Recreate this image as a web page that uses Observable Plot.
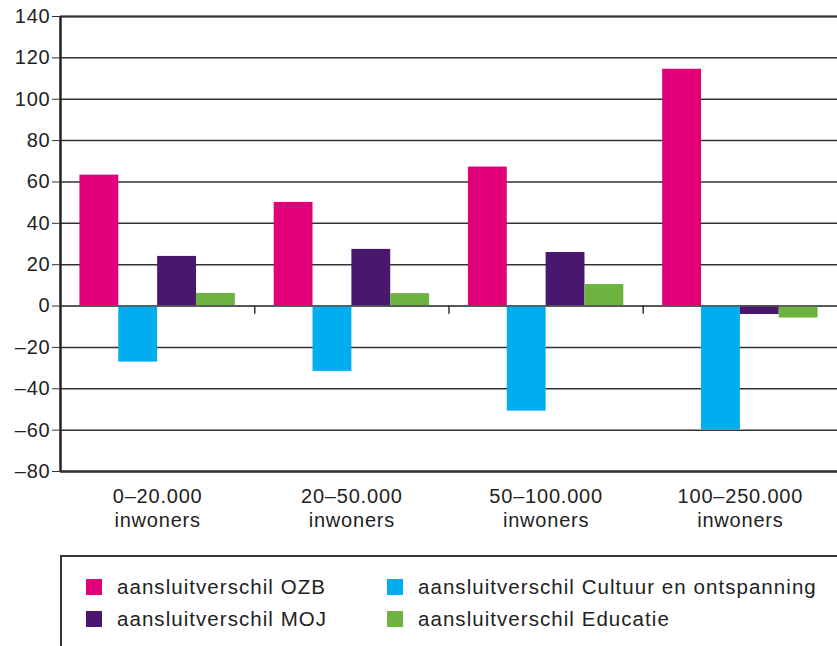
<!DOCTYPE html>
<html>
<head>
<meta charset="utf-8">
<script src="https://cdn.jsdelivr.net/npm/d3@7"></script>
<script src="https://cdn.jsdelivr.net/npm/@observablehq/plot@0.6"></script>
<style>
  html, body { margin: 0; padding: 0; background: #fff; overflow: hidden; width: 837px; height: 646px; }
  body { font-family: "Liberation Sans", Arial, sans-serif; color: #222; }
  #legend {
    margin-left: 60px; margin-top: 15px;
    border-left: 2px solid #333; border-top: 2px solid #333;
    width: 800px; height: 120px; box-sizing: border-box;
    padding: 20px 0 0 24px;
    display: grid; grid-template-columns: 301px 470px; grid-auto-rows: 20px; row-gap: 12px;
    align-content: start;
    font-size: 20.5px; letter-spacing: 1.05px;
  }
  .item { display: flex; align-items: center; height: 20px; white-space: nowrap; }
  .sw { width: 16px; height: 16px; margin-right: 15px; flex: none; }
</style>
</head>
<body>
<div id="chart"></div>
<div id="legend"></div>
<script>
const groups = ["0–20.000\ninwoners", "20–50.000\ninwoners", "50–100.000\ninwoners", "100–250.000\ninwoners"];
const series = ["aansluitverschil OZB", "aansluitverschil Cultuur en ontspanning", "aansluitverschil MOJ", "aansluitverschil Educatie"];
const colors = ["#e2007a", "#00aeef", "#4a176e", "#6db33f"];
const ozb = [63.3, 50.1, 67.2, 114.5];
const cultuur = [-27.1, -31.6, -50.8, -59.8];
const moj = [24.0, 27.4, 25.9, -4.1];
const educatie = [6.1, 6.0, 10.4, -5.8];
const yTicks = [-80, -60, -40, -20, 0, 20, 40, 60, 80, 100, 120, 140];

const values = [ozb, cultuur, moj, educatie];
const data = [];
groups.forEach((g, gi) => {
  series.forEach((s, si) => {
    data.push({group: g, gi, series: s, si, value: values[si][gi]});
  });
});
// bar slot within each group (group occupies one unit on x)
const pad = 0.1, bw = 0.2;

const chart = Plot.plot({
  width: 837,
  height: 540,
  marginTop: 16,
  marginBottom: 69,
  marginLeft: 60,
  marginRight: 0,
  style: {fontFamily: "Liberation Sans, Arial, sans-serif", fontSize: "20px", color: "#222", background: "#fff", letterSpacing: "0.8px"},
  x: {domain: [0, groups.length], axis: null},
  y: {domain: [-80, 140], axis: null},
  color: {domain: series, range: colors},
  marks: [
    Plot.gridY(yTicks, {stroke: "#333", strokeOpacity: 1, strokeWidth: 1.5}),
    Plot.rect(data, {
      x1: d => d.gi + pad + d.si * bw,
      x2: d => d.gi + pad + (d.si + 1) * bw,
      y1: 0,
      y2: "value",
      fill: "series"
    }),
    Plot.ruleY([0], {stroke: "#555", strokeWidth: 1.5}),
    Plot.ruleY([-80], {stroke: "#333", strokeWidth: 2.5}),
    Plot.ruleY([140], {stroke: "#333", strokeWidth: 2}),
    Plot.ruleX([1, 2, 3], {y1: 0, y2: -4, stroke: "#333", strokeWidth: 1.5}),
    Plot.ruleX([0], {stroke: "#222", strokeWidth: 2.5}),
    Plot.axisY(yTicks, {
      anchor: "left", tickSize: 8, tickPadding: 2, stroke: "#333", label: null,
      tickFormat: d => d < 0 ? "–" + Math.abs(d) : String(d),
      fill: "#222", fontSize: 20
    }),
    Plot.text(groups, {
      x: (d, i) => i + 0.5,
      y: -80,
      text: d => d,
      dy: 14,
      lineAnchor: "top",
      lineHeight: 1.2,
      fill: "#222",
      fontSize: 20
    })
  ]
});
document.getElementById("chart").appendChild(chart);

const legend = document.getElementById("legend");
series.forEach((s, i) => {
  const item = document.createElement("div");
  item.className = "item";
  const sw = document.createElement("span");
  sw.className = "sw";
  sw.style.background = colors[i];
  const t = document.createElement("span");
  t.textContent = s;
  item.appendChild(sw);
  item.appendChild(t);
  legend.appendChild(item);
});
</script>
</body>
</html>
